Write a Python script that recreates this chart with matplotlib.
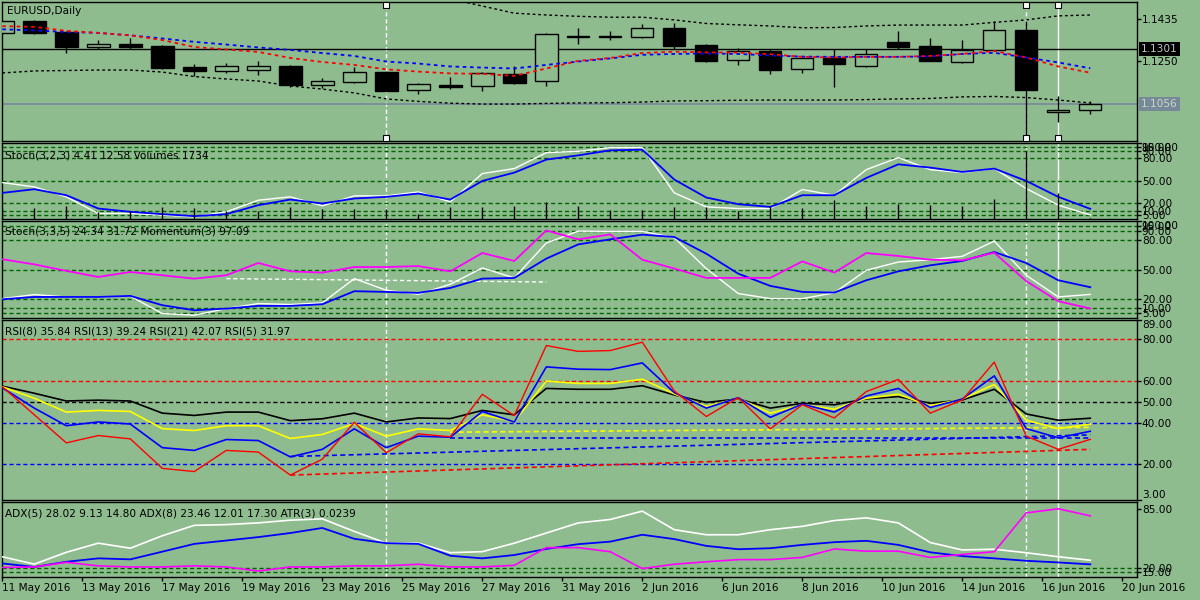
import numpy as np
import matplotlib
matplotlib.use('Agg')
import matplotlib.pyplot as plt
from matplotlib.transforms import blended_transform_factory as blend

plt.rcParams['font.family'] = 'DejaVu Sans'
plt.rcParams['font.size'] = 7.6

BG = '#8FBC8F'
LVL = '#006400'

# ---------------- data ----------------
opens = [1.1372, 1.1427, 1.1378, 1.1313, 1.1325, 1.1316, 1.1222, 1.1205, 1.1210, 1.1226,
         1.1143, 1.1156, 1.1200, 1.1118, 1.1142, 1.1136, 1.1190, 1.1158, 1.1360, 1.1360,
         1.1357, 1.1396, 1.1320, 1.1252, 1.1293, 1.1212, 1.1261, 1.1228, 1.1334, 1.1316,
         1.1243, 1.1298, 1.1387, 1.1019, 1.1028]
highs = [1.1428, 1.1432, 1.1383, 1.1342, 1.1351, 1.1320, 1.1235, 1.1240, 1.1249, 1.1231,
         1.1173, 1.1222, 1.1204, 1.1152, 1.1177, 1.1200, 1.1226, 1.1375, 1.1396, 1.1381,
         1.1414, 1.1418, 1.1325, 1.1305, 1.1301, 1.1267, 1.1301, 1.1301, 1.1381, 1.1351,
         1.1342, 1.1426, 1.1429, 1.1092, 1.1071]
lows = [1.1371, 1.1371, 1.1283, 1.1301, 1.1301, 1.1214, 1.1182, 1.1196, 1.1187, 1.1134,
        1.1129, 1.1152, 1.1113, 1.1103, 1.1125, 1.1116, 1.1147, 1.1138, 1.1326, 1.1341,
        1.1353, 1.1302, 1.1245, 1.1232, 1.1192, 1.1194, 1.1134, 1.1223, 1.1304, 1.1247,
        1.1238, 1.1295, 1.0909, 1.0977, 1.1013]
closes = [1.1427, 1.1375, 1.1313, 1.1325, 1.1313, 1.1219, 1.1205, 1.1226, 1.1226, 1.1143,
          1.1159, 1.1200, 1.1116, 1.1145, 1.1134, 1.1195, 1.1152, 1.1369, 1.1355, 1.1355,
          1.1395, 1.1317, 1.1250, 1.1292, 1.1210, 1.1261, 1.1237, 1.1280, 1.1313, 1.1249,
          1.1296, 1.1386, 1.1120, 1.1030, 1.1056]

ma_red = [1.1404, 1.1401, 1.1383, 1.1374, 1.1363, 1.1342, 1.1311, 1.1300, 1.1289, 1.1262,
          1.1244, 1.1231, 1.1211, 1.1201, 1.1193, 1.1191, 1.1182, 1.1215, 1.1249, 1.1262,
          1.1284, 1.1290, 1.1287, 1.1286, 1.1279, 1.1267, 1.1264, 1.1267, 1.1267, 1.1271,
          1.1280, 1.1293, 1.1264, 1.1224, 1.1196]
ma_blue = [1.1390, 1.1385, 1.1378, 1.1374, 1.1363, 1.1349, 1.1334, 1.1322, 1.1309, 1.1298,
           1.1284, 1.1271, 1.1246, 1.1237, 1.1224, 1.1219, 1.1215, 1.1231, 1.1246, 1.1260,
           1.1276, 1.1280, 1.1282, 1.1280, 1.1273, 1.1268, 1.1267, 1.1267, 1.1267, 1.1269,
           1.1280, 1.1285, 1.1264, 1.1242, 1.1216]
band_up = [np.nan] * 14 + [1.1526, 1.1494, 1.1462, 1.1454, 1.1448, 1.1444, 1.1444, 1.1432,
                           1.1416, 1.1410, 1.1405, 1.1397, 1.1398, 1.1405, 1.1409, 1.1409,
                           1.1409, 1.1421, 1.1432, 1.1450, 1.1454]
band_low = [1.1195, 1.1204, 1.1206, 1.1208, 1.1208, 1.1199, 1.1179, 1.1168, 1.1159, 1.1137,
            1.1123, 1.1106, 1.1079, 1.1068, 1.1060, 1.1056, 1.1056, 1.1059, 1.1061, 1.1062,
            1.1065, 1.1070, 1.1071, 1.1073, 1.1074, 1.1074, 1.1074, 1.1076, 1.1079, 1.1081,
            1.1088, 1.1090, 1.1085, 1.1074, 1.1061]
hline_price = 1.1301
last_price = 1.1056

volumes_k = [22, 23, 27, 15, 17, 25, 23, 17, 16, 24, 20, 20, 20, 11, 24, 24, 26, 34, 26, 19,
             19, 25, 25, 17, 27, 23, 38, 27, 30, 29, 27, 41, 137, 52, 1.734]
st1_main = [47.7, 41.9, 28.6, 6.4, 6.4, 4.1, 1.9, 8.6, 24.1, 28.6, 16.6, 29.9, 29.9, 35.2,
            21.9, 59.7, 66.4, 87.7, 89.5, 94.4, 94.4, 33.9, 15.2, 13.0, 13.0, 38.4, 30.8,
            65.0, 81.0, 65.0, 61.0, 66.4, 39.7, 17.5, 4.41]
st1_sig = [33.9, 38.8, 30.8, 13.0, 8.6, 5.5, 2.8, 5.5, 17.5, 25.0, 19.7, 26.4, 28.6, 33.0,
           25.0, 49.9, 61.0, 78.4, 84.1, 90.8, 91.7, 51.7, 27.7, 18.8, 15.2, 30.8, 30.8,
           53.9, 72.1, 67.7, 61.9, 66.4, 49.9, 28.6, 12.58]

st2_main = [20.0, 24.1, 21.7, 21.7, 22.4, 4.6, 2.9, 9.7, 14.9, 13.9, 15.6, 40.6, 28.6, 24.5,
            34.8, 51.6, 41.3, 77.3, 89.6, 89.3, 89.3, 82.8, 50.9, 25.2, 20.0, 20.0, 25.9,
            49.2, 57.7, 60.1, 63.6, 79.3, 44.0, 21.7, 24.34]
st2_sig = [19.3, 21.7, 21.7, 21.7, 22.8, 13.2, 8.0, 9.7, 12.5, 12.5, 14.2, 27.6, 26.9, 25.9,
           31.0, 40.6, 41.3, 61.2, 75.9, 81.1, 85.9, 83.5, 66.3, 45.7, 33.1, 26.9, 26.2,
           38.9, 48.1, 54.3, 58.8, 68.0, 56.7, 38.9, 31.72]
momentum = [100.26, 99.93, 99.51, 99.12, 99.44, 99.23, 99.01, 99.23, 100.02, 99.48, 99.40,
            99.76, 99.76, 99.82, 99.48, 100.66, 100.15, 102.11, 101.54, 101.86, 100.23,
            99.66, 99.06, 99.06, 99.06, 100.12, 99.40, 100.66, 100.47, 100.23, 100.19,
            100.68, 98.85, 97.56, 97.09]
st2_trend_x = [7, 17]
st2_trend_y = [40.6, 37.1]

rsi5 = [57.1, 43.7, 30.3, 33.8, 32.2, 18.1, 16.6, 26.7, 25.9, 14.9, 22.5, 40.1, 25.6, 34.6,
        33.2, 53.5, 43.3, 76.8, 74.0, 74.4, 78.4, 55.1, 42.9, 51.9, 37.0, 48.5, 42.2, 54.8,
        60.6, 44.5, 50.8, 68.9, 33.5, 27.2, 31.97]
rsi8 = [56.6, 46.9, 38.5, 40.3, 39.3, 28.0, 26.7, 31.9, 31.4, 23.6, 27.2, 37.0, 28.0, 33.5,
        33.0, 45.3, 40.3, 66.6, 65.5, 65.3, 68.5, 54.3, 46.9, 51.9, 42.5, 48.8, 45.0, 52.7,
        56.3, 47.2, 51.3, 62.3, 37.1, 32.7, 35.84]
rsi13 = [57.1, 51.6, 45.0, 45.8, 45.3, 37.1, 36.2, 38.5, 38.5, 32.4, 34.3, 39.5, 33.5, 37.0,
         36.2, 43.7, 40.6, 59.8, 58.7, 58.7, 60.7, 53.7, 47.7, 51.6, 44.5, 48.5, 46.4, 51.6,
         53.5, 48.0, 51.3, 58.2, 41.1, 37.1, 39.24]
rsi21 = [57.4, 54.0, 50.3, 50.7, 50.3, 44.5, 43.4, 45.0, 45.0, 40.9, 41.8, 44.5, 40.3, 42.2,
         41.9, 45.8, 43.7, 56.3, 55.9, 55.9, 57.6, 53.2, 49.6, 51.3, 46.9, 49.2, 48.5, 51.3,
         52.4, 49.2, 50.8, 55.9, 44.1, 41.1, 42.07]
# trend lines drawn on the RSI window: (x0, x1, y0, y1, colour)
rsi_trends = [(14, 34, 35.4, 37.7, '#FFFF00'),
              (14, 34, 32.7, 32.7, '#0000FF'),
              (9, 34, 23.8, 34.1, '#0000FF'),
              (9, 34, 14.9, 27.2, '#FF0000')]

adx5 = [31.9, 23.7, 36.8, 46.9, 41.3, 55.1, 66.6, 67.4, 69.3, 72.3, 73.8, 59.9, 46.9, 46.9,
        36.4, 37.5, 46.9, 58.1, 69.3, 73.1, 82.3, 61.8, 56.2, 56.2, 61.8, 65.5, 71.9, 74.9,
        69.3, 47.6, 39.4, 40.2, 36.3, 31.9, 28.02]
adx8 = [24.5, 20.6, 26.3, 30.1, 29.0, 37.5, 46.1, 49.8, 53.6, 58.1, 63.7, 51.7, 46.9, 46.1,
        33.0, 30.1, 33.8, 40.5, 45.8, 48.6, 56.2, 51.4, 43.9, 40.2, 41.3, 45.0, 48.0, 49.5,
        45.0, 36.8, 32.6, 30.1, 27.4, 25.6, 23.46]
atr3 = [0.0049, 0.0051, 0.0068, 0.0055, 0.0051, 0.0051, 0.0055, 0.0051, 0.0036, 0.0051,
        0.0051, 0.0055, 0.0055, 0.0061, 0.0051, 0.0051, 0.0057, 0.0122, 0.0122, 0.0107,
        0.0045, 0.0061, 0.0070, 0.0078, 0.0078, 0.0086, 0.0117, 0.0109, 0.0109, 0.0086,
        0.0097, 0.0107, 0.0250, 0.0265, 0.0239]

date_labels = ['11 May 2016', '13 May 2016', '17 May 2016', '19 May 2016', '23 May 2016',
               '25 May 2016', '27 May 2016', '31 May 2016', '2 Jun 2016', '6 Jun 2016',
               '8 Jun 2016', '10 Jun 2016', '14 Jun 2016', '16 Jun 2016', '20 Jun 2016']
osc_ticks = [5, 10, 20, 50, 80, 90, 95]
rsi_ticks = [20, 40, 50, 60, 80]
rsi_range = (3, 89)
adx_ticks = [15, 20, 85]
vline_dashed = [12, 32]
vline_solid = [33]

# ---------------- figure ----------------
fig = plt.figure(figsize=(12, 6), dpi=100, facecolor=BG)
W, H = 1200, 600


def panel(top, bottom):
    ax = fig.add_axes([2 / W, 1 - bottom / H, 1135 / W, (bottom - top) / H])
    ax.set_facecolor(BG)
    ax.set_xlim(-0.01, 35.46)
    for s in ax.spines.values():
        s.set_color('black')
        s.set_linewidth(1)
    ax.tick_params(axis='x', bottom=False, labelbottom=False)
    for b in vline_dashed:
        ax.axvline(b, color='white', lw=1, ls=(0, (3, 2)), zorder=1)
    for b in vline_solid:
        ax.axvline(b, color='white', lw=1, zorder=1)
    return ax


def right_ticks(ax, ticks, fmt='%.2f'):
    ax.yaxis.tick_right()
    ax.set_yticks(ticks)
    ax.set_yticklabels([fmt % v for v in ticks])
    ax.tick_params(axis='y', left=False, labelleft=False, right=True, labelright=True,
                   direction='out', length=3, width=1, pad=0.5, labelsize=7.6,
                   colors='black')


def edge_label(ax, text, where):
    # range labels MT4 squeezes inside the window edge
    yy, va = (1.0, 'top') if where == 'top' else (0.0, 'bottom')
    ax.text(1.0045, yy, text, transform=ax.transAxes, ha='left', va=va,
            fontsize=7.6, color='black', clip_on=False)
    ax.plot([1.0, 1.0035], [yy, yy], transform=ax.transAxes, color='black', lw=1,
            clip_on=False)


def twin(ax):
    t = ax.twinx()
    t.set_xlim(ax.get_xlim())
    t.set_yticks([])
    t.tick_params(axis='y', right=False, labelright=False)
    for s in t.spines.values():
        s.set_visible(False)
    return t


def levels(ax, vals, color=LVL):
    for v in vals:
        ax.axhline(v, color=color, lw=1, ls=(0, (3, 2)), zorder=1)


x = np.arange(len(closes))

# --- main price window ---
ax1 = panel(2, 141)
ax1.set_ylim(1.0891, 1.1512)
o, h, l, c = map(np.array, (opens, highs, lows, closes))
up = c >= o
ax1.vlines(x, l, h, color='black', lw=1, zorder=3)
ax1.bar(x, np.maximum(np.abs(c - o), 0.00006), 0.7, bottom=np.minimum(o, c),
        color=np.where(up, BG, 'black'), edgecolor='black', lw=1, zorder=4)
ax1.axhline(hline_price, color='black', lw=1, zorder=2)
ax1.axhline(last_price, color='#778899', lw=1.2, zorder=2)
ax1.plot(x, band_up, color='black', lw=1, ls=(0, (2, 2)), zorder=5)
ax1.plot(x, band_low, color='black', lw=1, ls=(0, (2, 2)), zorder=5)
ax1.plot(x, ma_blue, color='#0000FF', lw=1.3, ls=(0, (2, 2)), zorder=5)
ax1.plot(x, ma_red, color='#FF0000', lw=1.3, ls=(0, (2, 2)), zorder=5)
right_ticks(ax1, [1.1250, 1.1435], '%.4f')
tr = blend(ax1.transAxes, ax1.transData)
ax1.text(1.0035, hline_price, '1.1301', transform=tr, va='center', ha='left',
         color='#C0C0C0', fontsize=7.6, zorder=10,
         bbox=dict(boxstyle='square,pad=0.2', fc='black', ec='none'))
ax1.text(1.0035, last_price, '1.1056', transform=tr, va='center', ha='left',
         color='#C8D8C8', fontsize=7.6, zorder=10,
         bbox=dict(boxstyle='square,pad=0.2', fc='#778899', ec='none'))
trx = blend(ax1.transData, ax1.transAxes)
for b in vline_dashed + vline_solid:
    ax1.plot([b, b], [0.978, 0.022], transform=trx, ls='none', marker='s', ms=4,
             mfc='white', mec='black', mew=0.8, zorder=6, clip_on=False)

# --- Stoch(3,2,3) + Volumes ---
ax2 = panel(143, 219)
ax2.set_ylim(-1, 100.6)
levels(ax2, osc_ticks)
ax2.plot(x, st1_main, color='white', lw=1, zorder=3)
ax2.plot(x, st1_sig, color='#0000FF', lw=1.3, zorder=3)
ax2v = twin(ax2)
ax2v.set_ylim(0, 152)
ax2v.vlines(x, 0, volumes_k, color='black', lw=1)
right_ticks(ax2, osc_ticks)
edge_label(ax2, '100.00', 'top')

# --- Stoch(3,3,5) + Momentum(3) ---
ax3 = panel(221, 318)
ax3.set_ylim(0, 100)
levels(ax3, osc_ticks)
ax3.plot(st2_trend_x, st2_trend_y, color='white', lw=1, ls=(0, (3, 2)), zorder=2)
ax3.plot(x, st2_main, color='white', lw=1, zorder=3)
ax3.plot(x, st2_sig, color='#0000FF', lw=1.3, zorder=3)
ax3m = twin(ax3)
ax3m.set_ylim(96.48, 102.72)
ax3m.plot(x, momentum, color='#FF00FF', lw=1.3)
right_ticks(ax3, osc_ticks)
edge_label(ax3, '100.00', 'top')

# --- RSI window ---
ax4 = panel(320, 500)
ax4.set_ylim(*rsi_range)
levels(ax4, [80, 60], '#FF0000')
levels(ax4, [50], 'black')
levels(ax4, [40, 20], '#0000FF')
for x0, x1, y0, y1, col in rsi_trends:
    ax4.plot([x0, x1], [y0, y1], color=col, lw=1.2, ls=(0, (3, 2)), zorder=2)
ax4.plot(x, rsi21, color='black', lw=1.2, zorder=3)
ax4.plot(x, rsi13, color='#FFFF00', lw=1.2, zorder=3)
ax4.plot(x, rsi8, color='#0000FF', lw=1.2, zorder=3)
ax4.plot(x, rsi5, color='#FF0000', lw=1, zorder=3)
right_ticks(ax4, rsi_ticks)
edge_label(ax4, '%.2f' % rsi_range[1], 'top')
edge_label(ax4, '%.2f' % rsi_range[0], 'bottom')

# --- ADX / ATR window ---
ax5 = panel(502, 577)
ax5.set_ylim(9.5, 92.4)
levels(ax5, [15, 20])
ax5.plot(x, adx5, color='white', lw=1.2, zorder=3)
ax5.plot(x, adx8, color='#0000FF', lw=1.3, zorder=3)
ax5a = twin(ax5)
ax5a.set_ylim(0.0014, 0.0290)
ax5a.plot(x, atr3, color='#FF00FF', lw=1.2)
right_ticks(ax5, adx_ticks)
ax5.set_xticks(np.arange(len(date_labels)) * 2.5)
ax5.set_xticklabels(date_labels, ha='left')
ax5.tick_params(axis='x', bottom=True, labelbottom=True, direction='out', length=3,
                width=1, pad=1.5, labelsize=7.6, colors='black')

# --- window captions ---
captions = [(7, 11, 'EURUSD,Daily'),
            (5, 155, 'Stoch(3,2,3) 4.41 12.58 Volumes 1734'),
            (5, 231, 'Stoch(3,3,5) 24.34 31.72 Momentum(3) 97.09'),
            (5, 331, 'RSI(8) 35.84 RSI(13) 39.24 RSI(21) 42.07 RSI(5) 31.97'),
            (5, 514, 'ADX(5) 28.02 9.13 14.80 ADX(8) 23.46 12.01 17.30 ATR(3) 0.0239')]
for px, py, s in captions:
    fig.text(px / W, 1 - py / H, s, va='center', ha='left', fontsize=7.6, color='black',
             zorder=20)

fig.savefig('out.png', dpi=100, facecolor=BG)
